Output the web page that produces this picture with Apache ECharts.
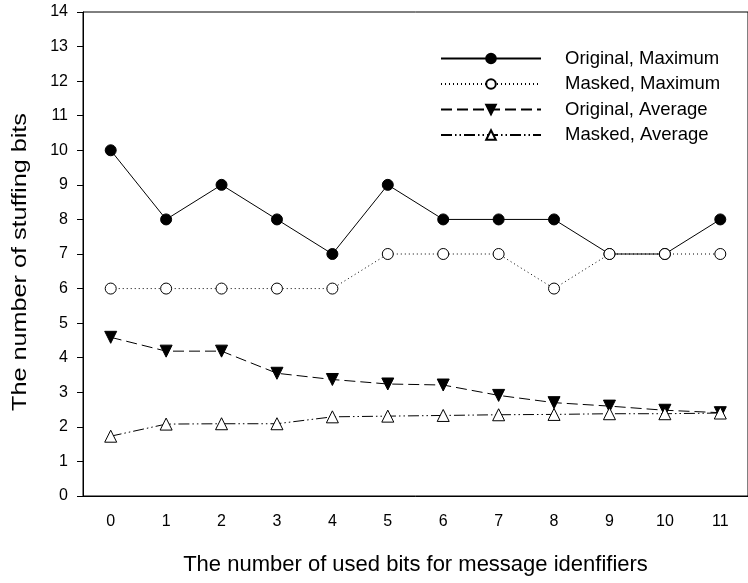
<!DOCTYPE html>
<html>
<head>
<meta charset="utf-8">
<style>
  html, body { margin: 0; padding: 0; background: #fff; }
  #chart { width: 748px; height: 583px; }
</style>
<script src="https://cdn.jsdelivr.net/npm/echarts@6/dist/echarts.min.js"></script>
</head>
<body>
<div id="chart"></div>
<script>
// Number of identifier bits used (x categories)
const usedBits = ['0', '1', '2', '3', '4', '5', '6', '7', '8', '9', '10', '11'];

// Stuffing bits per configuration
const originalMaximum = [10, 8, 9, 8, 7, 9, 8, 8, 8, 7, 7, 8];
const maskedMaximum   = [6, 6, 6, 6, 6, 7, 7, 7, 6, 7, 7, 7];
const originalAverage = [4.59, 4.19, 4.19, 3.55, 3.37, 3.24, 3.21, 2.91, 2.70, 2.60, 2.48, 2.41];
const maskedAverage   = [1.73, 2.08, 2.09, 2.09, 2.29, 2.31, 2.33, 2.35, 2.36, 2.38, 2.38, 2.40];

const seriesNames = ['Original, Maximum', 'Masked, Maximum', 'Original, Average', 'Masked, Average'];
const xTitle = 'The number of used bits for message idenfifiers';
const yTitle = 'The number of stuffing bits';

const FONT = '"Liberation Sans", Arial, sans-serif';
const chart = echarts.init(document.getElementById('chart'), null, { renderer: 'canvas' });

function lineSeries(name, data, symbol, size, fill, dash, rotate) {
  return {
    name: name,
    type: 'line',
    data: data,
    symbol: symbol,
    symbolSize: size,
    symbolRotate: rotate || 0,
    showSymbol: true,
    lineStyle: { color: '#000', width: 1, type: dash },
    itemStyle: { color: fill, borderColor: '#000', borderWidth: 1 },
    emphasis: { disabled: true },
    animation: false,
    z: 3
  };
}

const GRID = { left: 83, right: -8, top: 12, bottom: 87 };

chart.setOption({
  backgroundColor: '#fff',
  animation: false,
  grid: Object.assign({
    show: true, borderColor: '#000', borderWidth: 1, backgroundColor: 'transparent'
  }, GRID),
  legend: {
    orient: 'vertical',
    left: 440, top: 49,
    padding: 0,
    itemWidth: 100, itemHeight: 12, itemGap: 6.5,
    data: seriesNames,
    textStyle: { fontFamily: FONT, fontSize: 18.5, lineHeight: 18, color: '#000', padding: [0, 0, 0, 19] },
    selectedMode: false
  },
  // vertical axis title, stretched along its length
  graphic: [{
    type: 'text',
    x: 20,
    y: 262,
    rotation: Math.PI / 2,
    scaleX: 1.26,
    style: {
      text: yTitle,
      font: '20px "Liberation Sans", Arial, sans-serif',
      fill: '#000',
      align: 'center',
      verticalAlign: 'middle'
    },
    silent: true
  }],
  xAxis: {
    type: 'category',
    data: usedBits,
    boundaryGap: true,
    name: xTitle,
    nameLocation: 'middle',
    nameGap: 58,
    nameTextStyle: { fontFamily: FONT, fontSize: 22, color: '#000' },
    axisLine: { lineStyle: { color: '#000', width: 1 } },
    axisTick: { alignWithLabel: true, length: 6, inside: false, lineStyle: { color: '#000' } },
    axisLabel: { fontFamily: FONT, fontSize: 16, color: '#000', margin: 18 },
    splitLine: { show: false }
  },
  yAxis: {
    type: 'value',
    min: 0, max: 14, interval: 1,
    axisLine: { show: true, lineStyle: { color: '#000', width: 1 } },
    axisTick: { show: true, length: 6, lineStyle: { color: '#000' } },
    axisLabel: { fontFamily: FONT, fontSize: 16, color: '#000', margin: 15 },
    splitLine: { show: false }
  },
  series: [
    lineSeries(seriesNames[0], originalMaximum, 'circle', 11, '#000', 'solid'),
    lineSeries(seriesNames[1], maskedMaximum, 'circle', 11, '#fff', [1, 3]),
    lineSeries(seriesNames[2], originalAverage, 'triangle', 12, '#000', [11, 5], 180),
    lineSeries(seriesNames[3], maskedAverage, 'triangle', 12, '#fff', [11, 3, 1.5, 3, 1.5, 3])
  ]
});
</script>
</body>
</html>
